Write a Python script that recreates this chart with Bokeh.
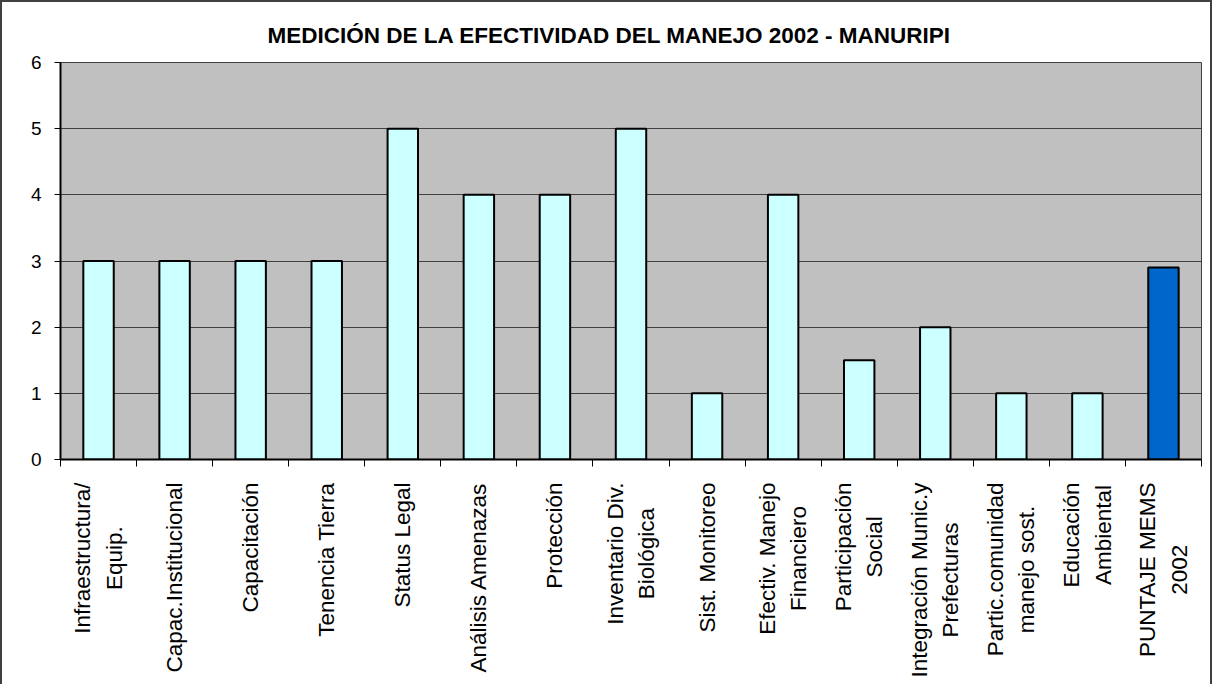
import math
from bokeh.plotting import figure
from bokeh.layouts import column
from bokeh.models import ColumnDataSource, Range1d, FixedTicker
from bokeh.core.properties import value
from bokeh.embed import file_html
from bokeh.resources import INLINE

# ---- data ----
categories = [
    "Infraestructura/\nEquip.",
    "Capac.Institucional",
    "Capacitación",
    "Tenencia Tierra",
    "Status Legal",
    "Análisis Amenazas",
    "Protección",
    "Inventario Div.\nBiológica",
    "Sist. Monitoreo",
    "Efectiv. Manejo\nFinanciero",
    "Participación\nSocial",
    "Integración Munic.y\nPrefecturas",
    "Partic.comunidad\nmanejo sost.",
    "Educación\nAmbiental",
    "PUNTAJE MEMS\n2002",
]
scores = [3, 3, 3, 3, 5, 4, 4, 5, 1, 4, 1.5, 2, 1, 1, 2.9]
y_ticks = [0, 1, 2, 3, 4, 5, 6]
title_text = "MEDICIÓN DE LA EFECTIVIDAD DEL MANEJO 2002 - MANURIPI"

n = len(categories)
centers = [i + 0.5 for i in range(n)]
bounds = [i for i in range(n + 1)]
colors = ["#CCFFFF"] * (n - 1) + ["#0066CC"]

src = ColumnDataSource(dict(x=centers, top=scores, color=colors, label=categories))

W = 1208
LEFT, RIGHT = 58, 9
xr = Range1d(0, n)

p = figure(
    width=W, height=480,
    x_range=xr, y_range=Range1d(0, 6),
    output_backend="svg", toolbar_location=None,
    min_border_left=LEFT, min_border_right=RIGHT, min_border_top=60, min_border_bottom=23,
    background_fill_color="#C0C0C0", border_fill_color="white",
)

p.title.text = title_text
p.title.text_font = "Liberation Sans"
p.title.text_font_size = "22.5px"
p.title.text_font_style = "bold"
p.title.text_color = "black"
p.title.align = "left"
p.title.offset = 207
p.title.standoff = 29

p.outline_line_color = "#404040"
p.outline_line_width = 1

p.vbar(x="x", top="top", width=0.4, bottom=0, source=src,
       fill_color="color", line_color="black", line_width=2)

# grid
p.xgrid.visible = False
p.ygrid.ticker = FixedTicker(ticks=y_ticks)
p.ygrid.grid_line_color = "#404040"
p.ygrid.grid_line_width = 1

# y axis
p.yaxis.ticker = FixedTicker(ticks=y_ticks)
p.yaxis.axis_line_color = "black"
p.yaxis.axis_line_width = 2
p.yaxis.major_tick_out = 6
p.yaxis.major_tick_in = 0
p.yaxis.minor_tick_line_color = None
p.yaxis.major_label_text_font = "Liberation Sans"
p.yaxis.major_label_text_font_size = "19px"
p.yaxis.major_label_text_color = "black"
p.yaxis.major_label_standoff = 13

# x axis: ticks between categories
p.xaxis.ticker = FixedTicker(ticks=centers, minor_ticks=bounds)
p.xaxis.major_label_overrides = {c: "" for c in centers}
p.xaxis.major_tick_out = 0
p.xaxis.major_tick_in = 0
p.xaxis.minor_tick_out = 7
p.xaxis.minor_tick_in = 0
p.xaxis.minor_tick_line_color = "black"
p.xaxis.axis_line_color = "black"
p.xaxis.axis_line_width = 2

# category labels panel (shares x range with the chart)
p2 = figure(
    width=W, height=202,
    x_range=xr, y_range=Range1d(0, 1),
    output_backend="svg", toolbar_location=None,
    min_border_left=LEFT, min_border_right=RIGHT, min_border_top=0, min_border_bottom=0,
    background_fill_color="white", border_fill_color="white",
)
p2.outline_line_color = None
p2.xaxis.visible = False
p2.yaxis.visible = False
p2.grid.visible = False
p2.text(x="x", y=1, text="label", source=src, angle=math.pi / 2,
        anchor="center_right", text_align="center", text_baseline="middle",
        text_font=value("Liberation Sans"), text_font_size=value("22.5px"),
        text_color="black", text_line_height=1.25)

layout = column(p, p2, spacing=0, styles={
    "border-top": "2px solid #404040",
    "border-left": "2px solid #404040",
    "border-right": "2px solid #404040",
})

open("out.html", "w").write(file_html(layout, INLINE))
